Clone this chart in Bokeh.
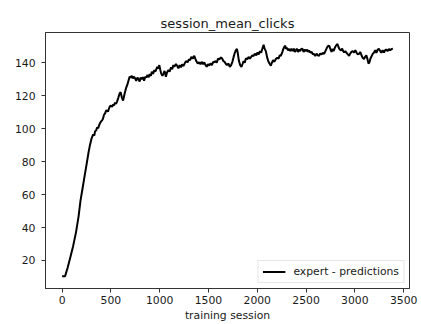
from bokeh.plotting import figure
from bokeh.models import Range1d, FixedTicker
from bokeh.embed import file_html
from bokeh.resources import INLINE

# training session index and session mean clicks
sessions = [0, 15, 31, 56, 82, 113, 143, 169, 189, 210, 230, 251, 271, 287, 302, 317, 330, 338, 350, 358,
            370, 379, 390, 399, 410, 420, 430, 440, 450, 461, 470, 481, 490, 501, 512, 522, 532, 542, 552, 563,
            575, 590, 600, 612, 625, 640, 655, 668, 680, 692, 705, 715, 725, 738, 750, 760, 772, 783, 795, 805,
            815, 828, 840, 852, 862, 875, 885, 898, 910, 920, 932, 945, 955, 965, 975, 985, 996, 1005, 1015, 1028,
            1040, 1050, 1064, 1075, 1090, 1102, 1116, 1128, 1140, 1150, 1167, 1180, 1192, 1205, 1218, 1230, 1245,
            1260, 1275, 1286, 1300, 1312, 1325, 1340, 1354, 1365, 1375, 1390, 1405, 1418, 1430, 1445, 1457, 1470,
            1482, 1495, 1508, 1520, 1535, 1548, 1559, 1572, 1585, 1598, 1612, 1627, 1640, 1652, 1665, 1679, 1690,
            1705, 1718, 1730, 1745, 1758, 1770, 1780, 1791, 1800, 1812, 1825, 1838, 1849, 1860, 1872, 1883, 1900,
            1912, 1925, 1934, 1950, 1962, 1975, 1990, 2003, 2015, 2028, 2040, 2055, 2065, 2075, 2088, 2100, 2112,
            2125, 2139, 2150, 2162, 2175, 2190, 2205, 2218, 2230, 2241, 2255, 2265, 2277, 2285, 2295, 2305, 2315,
            2326, 2338, 2350, 2362, 2375, 2385, 2395, 2405, 2418, 2430, 2440, 2452, 2463, 2475, 2488, 2500, 2512,
            2520, 2531, 2545, 2558, 2570, 2582, 2595, 2608, 2620, 2633, 2645, 2660, 2672, 2685, 2698, 2710, 2722,
            2736, 2748, 2760, 2770, 2782, 2795, 2808, 2822, 2832, 2845, 2858, 2870, 2880, 2890, 2902, 2915, 2928,
            2941, 2952, 2965, 2978, 2992, 3005, 3018, 3030, 3043, 3055, 3068, 3080, 3094, 3105, 3118, 3130, 3140,
            3150, 3160, 3172, 3185, 3197, 3208, 3220, 3235, 3248, 3260, 3272, 3285, 3299, 3310, 3322, 3335, 3350,
            3362, 3377, 3390]
mean_clicks = [10.5, 10.5, 10.5, 15.4, 21.4, 28.7, 37.2, 46.8, 56.5, 63.8, 71.0, 78.3, 85.6, 90.4, 94.0, 96.4, 95.8,
               98.3, 99.0, 100.7, 100.2, 101.9, 103.5, 104.3, 105.0, 106.1, 108.5, 109.1, 110.8, 111.0, 110.3, 112.2,
               113.5, 114.0, 113.2, 114.6, 114.0, 115.8, 115.0, 116.4, 118.5, 121.5, 122.0, 119.0, 117.0, 121.0,
               124.5, 126.5, 129.0, 131.5, 131.0, 132.0, 130.5, 131.5, 130.2, 129.0, 131.0, 130.0, 128.5, 131.0,
               130.0, 131.2, 129.0, 131.5, 131.0, 132.5, 131.0, 133.0, 132.0, 134.5, 133.2, 135.5, 134.5, 136.0,
               137.5, 136.5, 138.5, 136.0, 133.5, 132.0, 133.5, 135.0, 131.5, 134.0, 135.5, 134.5, 137.2, 136.0,
               138.5, 137.5, 139.2, 138.0, 136.5, 138.5, 137.2, 139.0, 138.0, 140.0, 141.0, 140.2, 142.0, 141.5,
               143.5, 142.5, 144.2, 142.5, 141.0, 139.5, 140.2, 139.0, 140.5, 139.0, 140.2, 138.5, 137.5, 139.0,
               138.2, 139.5, 138.5, 140.5, 140.2, 141.0, 140.0, 142.5, 142.0, 143.2, 142.5, 141.0, 140.5, 139.2,
               138.5, 139.5, 137.5, 138.2, 140.5, 143.5, 146.0, 147.5, 148.3, 146.0, 141.0, 138.5, 137.5, 139.2,
               141.0, 140.0, 142.5, 142.2, 143.5, 142.5, 143.2, 144.5, 144.0, 145.5, 144.5, 146.2, 145.0, 147.0,
               146.0, 149.0, 150.8, 148.5, 147.0, 143.5, 141.0, 139.5, 138.2, 140.0, 141.5, 140.5, 142.2, 143.0,
               142.5, 144.5, 144.2, 146.0, 148.0, 149.5, 150.3, 148.5, 149.0, 147.5, 148.3, 147.0, 148.5, 147.0,
               148.5, 146.5, 147.3, 148.5, 146.5, 148.0, 147.0, 148.5, 148.3, 146.5, 148.0, 147.0, 148.0, 146.5,
               147.3, 146.0, 146.5, 145.0, 145.3, 144.0, 145.5, 144.5, 144.2, 145.5, 145.0, 146.0, 145.3, 147.0,
               148.5, 150.0, 150.3, 148.5, 146.5, 148.3, 147.0, 149.0, 150.5, 151.3, 149.5, 148.0, 147.5, 148.5,
               147.0, 146.2, 147.0, 146.0, 145.0, 144.2, 145.5, 146.5, 147.0, 146.2, 147.5, 146.0, 145.0, 145.3,
               146.5, 144.5, 143.0, 142.2, 143.5, 144.5, 142.0, 139.5, 140.2, 142.5, 144.0, 145.5, 146.2, 147.5,
               146.0, 148.0, 148.3, 147.0, 146.0, 147.5, 146.2, 147.5, 148.0, 147.0, 148.3, 147.5, 148.3, 148.5]

x_ticks = [0, 500, 1000, 1500, 2000, 2500, 3000, 3500]
y_ticks = [20, 40, 60, 80, 100, 120, 140]
series_label = "expert - predictions"
title_text = "session_mean_clicks"
x_label = "training session"

FONT = "DejaVu Sans"
TXT = "#1a1a1a"

p = figure(width=421, height=324, output_backend="svg", toolbar_location=None,
           x_range=Range1d(-170, 3560), y_range=Range1d(3.0, 158.3),
           min_border_left=45, min_border_right=12, min_border_top=32, min_border_bottom=36)

p.title.text = title_text
p.title.align = "center"
p.title.text_font = FONT
p.title.text_font_size = "13px"
p.title.text_font_style = "normal"
p.title.text_color = TXT
p.title.standoff = 4

p.line(sessions, mean_clicks, line_color="black", line_width=2, legend_label=series_label)

p.grid.visible = False
p.outline_line_color = "#333333"
p.outline_line_width = 1
p.background_fill_color = "white"
p.border_fill_color = "white"

p.xaxis.ticker = FixedTicker(ticks=x_ticks)
p.yaxis.ticker = FixedTicker(ticks=y_ticks)
for ax in (p.xaxis[0], p.yaxis[0]):
    ax.major_label_text_font = FONT
    ax.major_label_text_font_size = "10.8px"
    ax.major_label_text_color = TXT
    ax.axis_line_color = "#333333"
    ax.major_tick_line_color = "#333333"
    ax.major_tick_out = 4
    ax.major_tick_in = 0
    ax.minor_tick_out = 0
    ax.minor_tick_in = 0
    ax.major_label_standoff = 3
p.yaxis.major_label_standoff = 6
p.xaxis.axis_label = x_label
p.xaxis.axis_label_text_font = FONT
p.xaxis.axis_label_text_font_size = "10.8px"
p.xaxis.axis_label_text_font_style = "normal"
p.xaxis.axis_label_text_color = TXT
p.xaxis.axis_label_standoff = 2

lg = p.legend[0]
lg.location = "bottom_right"
lg.margin = 5
lg.padding = 4
lg.spacing = 0
lg.glyph_width = 23
lg.glyph_height = 13
lg.label_height = 13
lg.label_standoff = 8
lg.label_text_font = FONT
lg.label_text_font_size = "10.8px"
lg.label_text_color = TXT
lg.border_line_color = "#cccccc"
lg.background_fill_alpha = 0.8

open("out.html", "w").write(file_html(p, INLINE))
